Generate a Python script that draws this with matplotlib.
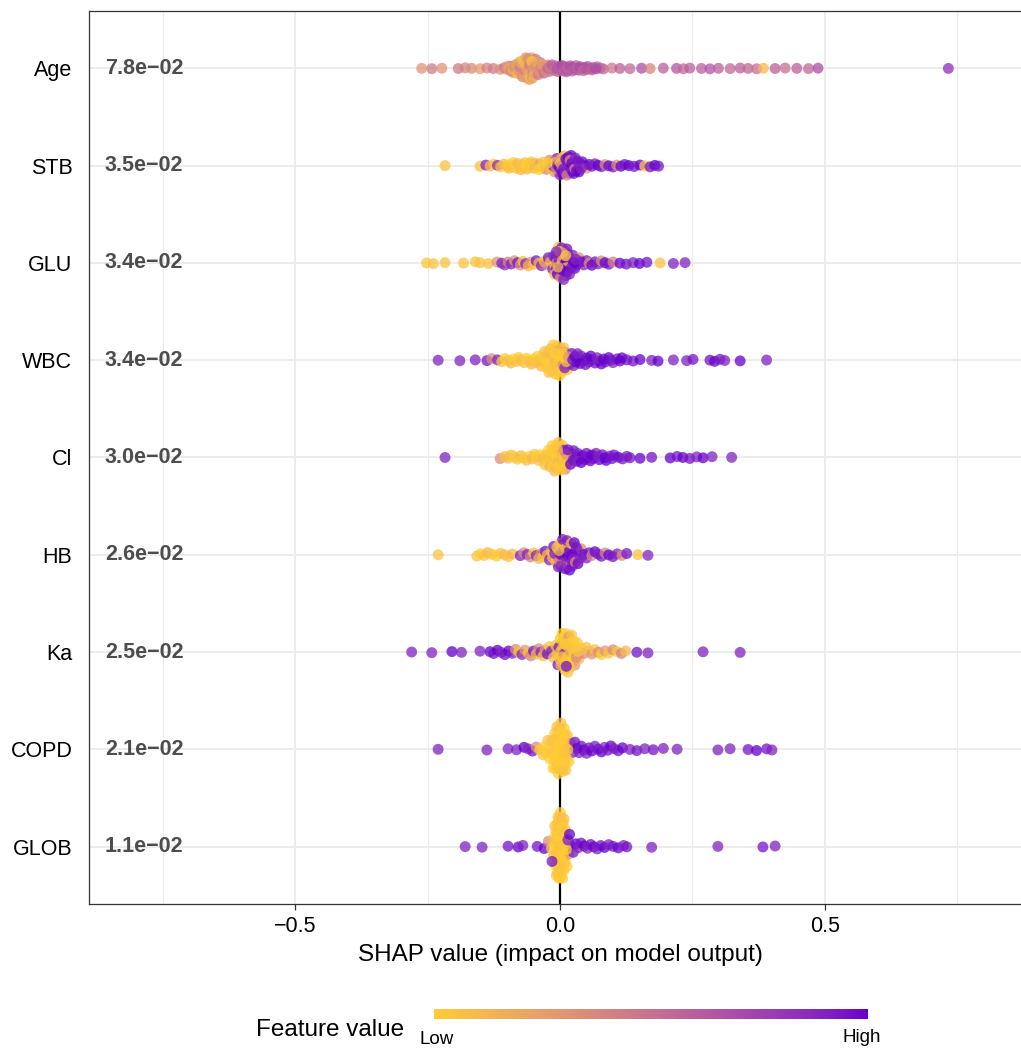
import numpy as np
import matplotlib
matplotlib.use("Agg")
import matplotlib.pyplot as plt
from matplotlib.colors import ListedColormap

plt.rcParams['font.family'] = ['Liberation Sans', 'DejaVu Sans']

# ---- data: (shap value, normalised feature value) per feature ----
features = ["Age", "STB", "GLU", "WBC", "Cl", "HB", "Ka", "COPD", "GLOB"]
mean_abs = ["7.8e\u221202", "3.5e\u221202", "3.4e\u221202", "3.4e\u221202", "3.0e\u221202",
            "2.6e\u221202", "2.5e\u221202", "2.1e\u221202", "1.1e\u221202"]

age_pts = [(-0.261, 0.3), (-0.242, 0.45), (-0.223, 0.3), (-0.192, 0.45), (-0.179, 0.4), (-0.167, 0.35),
           (-0.151, 0.25), (-0.138, 0.4), (-0.126, 0.45), (-0.113, 0.35), (-0.105, 0.5), (-0.098, 0.3),
           (-0.092, 0.45), (-0.088, 0.25), (-0.084, 0.3), (-0.081, 0.2), (-0.078, 0.4), (-0.076, 0.15),
           (-0.074, 0.35), (-0.072, 0.25), (-0.070, 0.1), (-0.069, 0.3), (-0.068, 0.45), (-0.066, 0.2),
           (-0.065, 0.3), (-0.064, 0.05), (-0.063, 0.35), (-0.062, 0.25), (-0.061, 0.15), (-0.060, 0.3),
           (-0.059, 0.4), (-0.058, 0.2), (-0.057, 0.1), (-0.056, 0.3), (-0.055, 0.35), (-0.054, 0.25),
           (-0.053, 0.15), (-0.052, 0.4), (-0.051, 0.3), (-0.050, 0.2), (-0.048, 0.35), (-0.046, 0.45),
           (-0.044, 0.25), (-0.042, 0.4), (-0.040, 0.3), (-0.037, 0.5), (-0.034, 0.35), (-0.031, 0.45),
           (-0.028, 0.55), (-0.024, 0.4), (-0.020, 0.55), (-0.016, 0.45), (-0.012, 0.6), (-0.008, 0.5),
           (-0.004, 0.55), (0.000, 0.6), (0.004, 0.65), (0.008, 0.55), (0.012, 0.6), (0.016, 0.7),
           (0.020, 0.6), (0.025, 0.65), (0.030, 0.55), (0.035, 0.7), (0.040, 0.6), (0.046, 0.65),
           (0.052, 0.7), (0.058, 0.6), (0.064, 0.65), (0.070, 0.55), (0.076, 0.6), (0.082, 0.55),
           (0.098, 0.45), (0.113, 0.6), (0.132, 0.55), (0.154, 0.7), (0.170, 0.4), (0.195, 0.6),
           (0.220, 0.65), (0.233, 0.55), (0.245, 0.6), (0.267, 0.6), (0.283, 0.65), (0.299, 0.6),
           (0.321, 0.55), (0.340, 0.6), (0.355, 0.55), (0.371, 0.5), (0.384, 0.1), (0.406, 0.6),
           (0.425, 0.5), (0.447, 0.6), (0.469, 0.55), (0.487, 0.7), (0.733, 0.85)]
age_core = [(-0.100, 0.3), (-0.096, 0.2), (-0.093, 0.4), (-0.089, 0.15), (-0.086, 0.35), (-0.083, 0.25),
            (-0.080, 0.1), (-0.077, 0.3), (-0.075, 0.45), (-0.073, 0.2), (-0.071, 0.35), (-0.069, 0.05),
            (-0.067, 0.25), (-0.066, 0.4), (-0.065, 0.15), (-0.063, 0.3), (-0.062, 0.1), (-0.061, 0.35),
            (-0.060, 0.2), (-0.059, 0.25), (-0.058, 0.45), (-0.057, 0.3), (-0.056, 0.1), (-0.055, 0.2),
            (-0.054, 0.35), (-0.053, 0.05), (-0.052, 0.25), (-0.051, 0.4), (-0.050, 0.3), (-0.049, 0.15),
            (-0.047, 0.25), (-0.045, 0.35), (-0.043, 0.2), (-0.041, 0.45), (-0.039, 0.3), (-0.036, 0.4),
            (-0.033, 0.25), (-0.030, 0.5), (-0.027, 0.35), (-0.023, 0.55), (-0.019, 0.45), (-0.015, 0.6),
            (-0.010, 0.5), (-0.006, 0.65), (-0.002, 0.6), (0.003, 0.7), (0.007, 0.6), (0.011, 0.65),
            (0.015, 0.55), (0.019, 0.7), (0.023, 0.6), (0.028, 0.65), (0.033, 0.6), (0.038, 0.7),
            (0.044, 0.55), (0.050, 0.65), (0.060, 0.6), (0.068, 0.7)]

stb_pts = [(-0.217, 0.05), (-0.151, 0.05), (-0.140, 0.9), (-0.132, 0.1), (-0.125, 0.05), (-0.118, 0.85),
           (-0.112, 0.05), (-0.106, 0.1), (-0.100, 0.05), (-0.095, 0.0), (-0.090, 0.1), (-0.086, 0.05),
           (-0.082, 0.0), (-0.078, 0.05), (-0.074, 0.1), (-0.070, 0.0), (-0.066, 0.05), (-0.062, 0.1),
           (-0.058, 0.0), (-0.054, 0.05), (-0.050, 0.0), (-0.046, 0.1), (-0.042, 0.05), (-0.038, 0.3),
           (-0.034, 0.0), (-0.030, 0.05), (-0.026, 0.4), (-0.022, 0.1), (-0.018, 0.9), (-0.014, 0.05),
           (-0.010, 0.3), (-0.006, 0.95), (-0.003, 0.1), (0.000, 0.9), (0.003, 0.05), (0.006, 0.95),
           (0.009, 0.4), (0.012, 1.0), (0.015, 0.9), (0.018, 0.95), (0.021, 1.0), (0.024, 0.85),
           (0.027, 0.95), (0.030, 1.0), (0.034, 0.9), (0.038, 0.95), (0.042, 1.0), (0.046, 0.95),
           (0.050, 0.3), (0.055, 1.0), (0.060, 0.95), (0.066, 0.9), (0.072, 1.0), (0.078, 0.95),
           (0.085, 0.35), (0.092, 1.0), (0.100, 0.95), (0.107, 0.35), (0.115, 1.0), (0.122, 0.95),
           (0.130, 1.0), (0.140, 0.95), (0.151, 1.0), (0.160, 0.05), (0.170, 0.95), (0.179, 1.0),
           (0.186, 0.95)]
stb_core = [(-0.020, 0.35), (-0.016, 0.1), (-0.012, 0.9), (-0.009, 0.05), (-0.007, 0.4), (-0.005, 0.95),
            (-0.003, 0.3), (-0.001, 1.0), (0.001, 0.05), (0.002, 0.9), (0.004, 0.35), (0.005, 1.0),
            (0.007, 0.95), (0.008, 0.1), (0.010, 0.9), (0.011, 1.0), (0.013, 0.4), (0.014, 0.95),
            (0.016, 1.0), (0.017, 0.9), (0.019, 0.3), (0.020, 0.95), (0.022, 1.0), (0.023, 0.9),
            (0.025, 0.95), (0.026, 1.0), (0.028, 0.35), (0.029, 0.9), (0.031, 1.0), (0.033, 0.95),
            (0.036, 1.0), (0.040, 0.9), (-0.097, 0.05), (-0.088, 0.0), (-0.080, 0.1), (-0.072, 0.05),
            (-0.064, 0.0), (-0.056, 0.05), (-0.048, 0.1), (-0.040, 0.0), (-0.032, 0.05), (-0.024, 0.0)]

glu_pts = [(-0.252, 0.05), (-0.239, 0.05), (-0.217, 0.05), (-0.182, 0.05), (-0.160, 0.05), (-0.151, 0.05),
           (-0.135, 0.05), (-0.119, 0.3), (-0.110, 0.9), (-0.104, 0.85), (-0.098, 0.4), (-0.092, 0.9),
           (-0.086, 0.3), (-0.080, 0.95), (-0.075, 0.35), (-0.070, 0.05), (-0.065, 0.9), (-0.060, 0.1),
           (-0.055, 0.3), (-0.050, 0.05), (-0.045, 0.95), (-0.040, 0.1), (-0.035, 0.9), (-0.030, 0.05),
           (-0.026, 0.35), (-0.022, 0.95), (-0.018, 0.1), (-0.014, 0.9), (-0.010, 0.05), (-0.007, 1.0),
           (-0.004, 0.3), (-0.001, 0.95), (0.002, 0.05), (0.005, 1.0), (0.008, 0.1), (0.011, 0.95),
           (0.014, 0.3), (0.017, 1.0), (0.020, 0.05), (0.024, 0.9), (0.028, 1.0), (0.032, 0.95),
           (0.036, 0.35), (0.040, 1.0), (0.045, 0.9), (0.050, 0.95), (0.055, 0.3), (0.060, 1.0),
           (0.066, 0.95), (0.072, 0.9), (0.078, 0.35), (0.085, 1.0), (0.092, 0.95), (0.100, 0.4),
           (0.113, 1.0), (0.125, 0.95), (0.138, 0.9), (0.150, 1.0), (0.164, 0.95), (0.189, 0.05),
           (0.214, 0.9), (0.236, 0.9)]
glu_core = [(-0.012, 0.9), (-0.010, 0.1), (-0.008, 0.95), (-0.006, 0.35), (-0.005, 1.0), (-0.003, 0.05),
            (-0.002, 0.9), (0.000, 1.0), (0.001, 0.3), (0.003, 0.95), (0.004, 0.05), (0.006, 1.0),
            (0.007, 0.9), (0.009, 0.35), (0.010, 1.0), (0.012, 0.05), (0.013, 0.95), (0.015, 0.9),
            (-0.001, 0.05), (0.002, 1.0), (0.005, 0.3), (0.008, 0.95), (-0.004, 0.1), (-0.007, 0.9),
            (0.011, 0.05), (0.014, 1.0), (0.018, 0.9), (0.022, 0.95), (0.026, 1.0), (0.030, 0.9)]

wbc_pts = [(-0.230, 0.9), (-0.189, 0.9), (-0.160, 0.9), (-0.138, 0.95), (-0.129, 0.35), (-0.118, 0.9),
           (-0.110, 0.05), (-0.104, 0.0), (-0.098, 0.05), (-0.093, 0.1), (-0.088, 0.0), (-0.083, 0.05),
           (-0.078, 0.0), (-0.073, 0.1), (-0.068, 0.05), (-0.063, 0.0), (-0.058, 0.05), (-0.054, 0.1),
           (-0.050, 0.0), (-0.046, 0.05), (-0.042, 0.0), (-0.038, 0.05), (-0.035, 0.1), (-0.032, 0.0),
           (-0.029, 0.05), (-0.026, 0.0), (-0.023, 0.05), (-0.020, 0.1), (-0.017, 0.0), (-0.014, 0.05),
           (-0.011, 0.0), (-0.008, 0.05), (-0.005, 0.1), (-0.002, 0.0), (0.001, 0.05), (0.004, 0.0),
           (0.007, 0.05), (0.010, 0.3), (0.014, 0.05), (0.018, 0.9), (0.022, 0.95), (0.026, 0.9),
           (0.030, 1.0), (0.035, 0.95), (0.040, 0.9), (0.045, 1.0), (0.050, 0.95), (0.055, 0.9),
           (0.060, 1.0), (0.066, 0.95), (0.072, 0.9), (0.078, 1.0), (0.085, 0.95), (0.092, 1.0),
           (0.100, 0.9), (0.108, 0.95), (0.117, 1.0), (0.126, 0.95), (0.138, 0.95), (0.151, 1.0),
           (0.173, 0.9), (0.185, 1.0), (0.214, 0.9), (0.239, 0.9), (0.251, 0.95), (0.283, 0.95),
           (0.292, 1.0), (0.302, 0.95), (0.311, 0.9), (0.340, 1.0), (0.390, 0.9)]
wbc_core = [(-0.030, 0.05), (-0.027, 0.0), (-0.024, 0.1), (-0.021, 0.05), (-0.019, 0.0), (-0.016, 0.05),
            (-0.015, 0.1), (-0.013, 0.0), (-0.012, 0.05), (-0.010, 0.0), (-0.009, 0.1), (-0.007, 0.05),
            (-0.006, 0.0), (-0.004, 0.05), (-0.003, 0.3), (-0.001, 0.0), (0.000, 0.05), (0.002, 0.1),
            (0.003, 0.0), (0.005, 0.05), (0.006, 0.35), (0.008, 0.0), (0.009, 0.9), (0.012, 0.05),
            (0.016, 0.3), (-0.018, 0.05), (-0.008, 0.0), (0.024, 0.95), (0.028, 1.0), (0.033, 0.9),
            (0.038, 1.0), (0.048, 0.95), (0.058, 1.0), (0.070, 0.9), (0.082, 1.0), (0.096, 0.95),
            (0.113, 1.0)]

cl_pts = [(-0.217, 0.9), (-0.113, 0.35), (-0.104, 0.05), (-0.098, 0.1), (-0.092, 0.05), (-0.086, 0.0),
          (-0.080, 0.05), (-0.074, 0.1), (-0.068, 0.0), (-0.063, 0.05), (-0.058, 0.0), (-0.053, 0.1),
          (-0.048, 0.05), (-0.044, 0.0), (-0.040, 0.05), (-0.036, 0.0), (-0.032, 0.1), (-0.028, 0.05),
          (-0.024, 0.0), (-0.020, 0.05), (-0.017, 0.0), (-0.014, 0.1), (-0.011, 0.05), (-0.008, 0.0),
          (-0.005, 0.05), (-0.002, 0.0), (0.001, 0.05), (0.004, 0.9), (0.007, 0.05), (0.010, 0.35),
          (0.014, 0.0), (0.018, 0.3), (0.022, 0.9), (0.026, 0.95), (0.030, 1.0), (0.034, 0.9),
          (0.038, 0.95), (0.042, 1.0), (0.047, 0.9), (0.052, 0.95), (0.057, 1.0), (0.062, 0.95),
          (0.068, 0.9), (0.074, 1.0), (0.080, 0.95), (0.087, 1.0), (0.094, 0.9), (0.102, 0.95),
          (0.110, 1.0), (0.118, 0.95), (0.126, 0.9), (0.132, 0.95), (0.151, 1.0), (0.173, 0.95),
          (0.208, 1.0), (0.221, 0.95), (0.232, 1.0), (0.245, 0.95), (0.258, 0.9), (0.270, 1.0),
          (0.287, 0.9), (0.324, 0.9)]
cl_core = [(-0.026, 0.05), (-0.022, 0.0), (-0.019, 0.1), (-0.016, 0.05), (-0.013, 0.0), (-0.012, 0.05),
           (-0.010, 0.1), (-0.009, 0.0), (-0.007, 0.05), (-0.006, 0.0), (-0.004, 0.1), (-0.003, 0.05),
           (-0.001, 0.0), (0.000, 0.05), (0.002, 0.0), (0.003, 0.35), (0.005, 0.05), (0.006, 0.0),
           (0.008, 0.9), (0.009, 0.05), (0.012, 0.3), (0.015, 0.95), (-0.015, 0.0), (-0.005, 0.05),
           (0.020, 1.0), (0.025, 0.95), (0.032, 0.9), (0.040, 1.0), (0.050, 0.95), (0.060, 1.0),
           (0.072, 0.9), (0.085, 1.0), (0.098, 0.95)]

hb_pts = [(-0.230, 0.05), (-0.157, 0.05), (-0.150, 0.0), (-0.143, 0.05), (-0.136, 0.1), (-0.128, 0.05),
          (-0.120, 0.0), (-0.112, 0.05), (-0.104, 0.1), (-0.097, 0.05), (-0.090, 0.1), (-0.075, 0.9),
          (-0.068, 0.35), (-0.062, 0.9), (-0.056, 0.4), (-0.050, 0.05), (-0.045, 0.9), (-0.040, 0.1),
          (-0.036, 0.35), (-0.032, 0.05), (-0.028, 0.95), (-0.024, 0.1), (-0.020, 0.9), (-0.016, 0.05),
          (-0.012, 0.95), (-0.008, 0.1), (-0.004, 1.0), (0.000, 0.05), (0.004, 0.95), (0.008, 1.0),
          (0.012, 0.3), (0.016, 0.95), (0.020, 1.0), (0.024, 0.9), (0.028, 0.05), (0.032, 1.0),
          (0.036, 0.95), (0.040, 0.35), (0.045, 1.0), (0.050, 0.9), (0.055, 0.95), (0.060, 0.35),
          (0.066, 1.0), (0.072, 0.9), (0.078, 0.95), (0.085, 0.4), (0.092, 1.0), (0.100, 0.95),
          (0.108, 0.9), (0.117, 0.35), (0.126, 0.95), (0.147, 0.05), (0.166, 0.9)]
hb_core = [(-0.014, 0.1), (-0.010, 0.9), (-0.006, 0.05), (-0.003, 0.95), (-0.001, 0.35), (0.001, 1.0),
           (0.003, 0.05), (0.005, 0.9), (0.006, 1.0), (0.007, 0.3), (0.009, 0.95), (0.010, 1.0),
           (0.011, 0.05), (0.013, 0.9), (0.014, 1.0), (0.015, 0.35), (0.017, 0.95), (0.018, 1.0),
           (0.019, 0.9), (0.021, 0.05), (0.022, 1.0), (0.023, 0.95), (0.025, 0.9), (0.027, 1.0),
           (0.029, 0.35), (0.031, 0.95), (0.034, 1.0), (0.038, 0.9), (-0.002, 0.1), (0.002, 0.9)]

ka_pts = [(-0.280, 0.9), (-0.242, 0.9), (-0.204, 1.0), (-0.186, 0.9), (-0.151, 0.9), (-0.132, 1.0),
          (-0.125, 0.95), (-0.118, 1.0), (-0.111, 0.9), (-0.104, 0.95), (-0.097, 1.0), (-0.090, 0.9),
          (-0.084, 0.35), (-0.078, 0.05), (-0.072, 0.9), (-0.066, 0.3), (-0.060, 0.05), (-0.055, 0.4),
          (-0.050, 0.95), (-0.045, 0.1), (-0.040, 0.35), (-0.036, 0.9), (-0.032, 0.05), (-0.028, 0.3),
          (-0.024, 0.95), (-0.020, 0.05), (-0.016, 0.9), (-0.012, 0.1), (-0.008, 0.05), (-0.004, 0.95),
          (0.000, 0.05), (0.003, 0.0), (0.006, 0.1), (0.009, 0.05), (0.012, 0.0), (0.015, 0.05),
          (0.018, 0.1), (0.021, 0.0), (0.024, 0.05), (0.028, 0.3), (0.032, 0.05), (0.036, 0.1),
          (0.040, 0.0), (0.045, 0.35), (0.050, 0.05), (0.055, 0.1), (0.060, 0.3), (0.066, 0.05),
          (0.072, 0.35), (0.078, 0.0), (0.085, 0.3), (0.092, 0.05), (0.100, 0.35), (0.108, 0.05),
          (0.116, 0.4), (0.124, 0.1), (0.145, 0.95), (0.166, 0.9), (0.270, 0.9), (0.340, 0.9)]
ka_core = [(-0.006, 0.05), (-0.002, 0.95), (0.000, 0.0), (0.001, 0.05), (0.002, 0.1), (0.004, 0.0),
           (0.005, 0.05), (0.007, 0.0), (0.008, 0.9), (0.010, 0.05), (0.011, 0.0), (0.013, 0.1),
           (0.014, 0.05), (0.016, 0.0), (0.017, 0.3), (0.019, 0.05), (0.020, 0.0), (0.022, 0.05),
           (0.023, 0.1), (0.025, 0.0), (0.026, 0.05), (0.029, 0.0), (0.031, 0.35), (0.034, 0.05),
           (0.003, 0.05), (0.009, 0.0), (0.015, 0.05), (0.012, 0.95)]

copd_pts = [(-0.230, 0.9), (-0.138, 0.9), (-0.098, 0.9), (-0.082, 0.9), (-0.068, 1.0), (-0.060, 0.9),
            (-0.052, 0.95), (-0.045, 0.35), (-0.038, 0.0), (-0.032, 0.05), (-0.027, 0.0), (-0.023, 0.05),
            (-0.019, 0.0), (-0.016, 0.05), (-0.013, 0.0), (-0.010, 0.05), (-0.008, 0.0), (-0.006, 0.05),
            (-0.004, 0.0), (-0.002, 0.05), (0.000, 0.0), (0.002, 0.05), (0.004, 0.0), (0.006, 0.05),
            (0.008, 0.0), (0.010, 0.05), (0.012, 0.0), (0.014, 0.05), (0.017, 0.0), (0.020, 0.35),
            (0.024, 0.9), (0.028, 0.95), (0.032, 1.0), (0.036, 0.9), (0.040, 0.95), (0.045, 1.0),
            (0.050, 0.9), (0.055, 0.95), (0.060, 1.0), (0.066, 0.9), (0.072, 0.95), (0.078, 1.0),
            (0.084, 0.9), (0.090, 0.95), (0.096, 1.0), (0.102, 0.9), (0.110, 0.95), (0.118, 1.0),
            (0.132, 0.9), (0.145, 0.95), (0.160, 0.9), (0.176, 0.95), (0.195, 0.9), (0.221, 0.9),
            (0.298, 0.9), (0.321, 0.9), (0.355, 0.95), (0.371, 1.0), (0.390, 0.95), (0.400, 0.9)]
copd_core = [(-0.012, 0.05), (-0.011, 0.0), (-0.009, 0.05), (-0.007, 0.0), (-0.005, 0.05), (-0.003, 0.0),
             (-0.001, 0.05), (0.001, 0.0), (0.003, 0.05), (0.005, 0.0), (0.007, 0.05), (0.009, 0.0),
             (0.011, 0.05), (0.013, 0.0), (-0.008, 0.05), (-0.004, 0.0), (0.000, 0.05), (0.004, 0.0),
             (0.008, 0.05), (-0.006, 0.0), (0.002, 0.05), (0.006, 0.0), (0.010, 0.05), (-0.002, 0.0),
             (0.015, 0.05), (-0.014, 0.0), (-0.020, 0.05), (-0.030, 0.0)]

glob_pts = [(-0.179, 0.9), (-0.147, 0.9), (-0.098, 0.95), (-0.079, 1.0), (-0.070, 0.9), (-0.043, 0.95),
            (-0.030, 1.0), (-0.022, 0.35), (-0.016, 0.0), (-0.012, 0.05), (-0.009, 0.0), (-0.007, 0.05),
            (-0.005, 0.0), (-0.004, 0.05), (-0.003, 0.0), (-0.002, 0.05), (-0.001, 0.0), (0.000, 0.05),
            (0.001, 0.0), (0.002, 0.05), (0.003, 0.0), (0.004, 0.05), (0.005, 0.0), (0.006, 0.05),
            (0.008, 0.0), (0.010, 0.05), (0.013, 0.0), (0.016, 0.3), (0.020, 0.9), (0.025, 0.95),
            (0.030, 1.0), (0.035, 0.9), (0.040, 0.95), (0.046, 1.0), (0.052, 0.9), (0.058, 0.95),
            (0.064, 1.0), (0.070, 0.9), (0.077, 0.95), (0.084, 1.0), (0.092, 0.9), (0.100, 0.95),
            (0.110, 1.0), (0.120, 0.9), (0.126, 0.95), (0.173, 0.9), (0.298, 0.9), (0.383, 0.95),
            (0.406, 0.9)]
glob_core = [(-0.010, 0.05), (-0.009, 0.0), (-0.008, 0.05), (-0.007, 0.0), (-0.006, 0.05), (-0.005, 0.0),
             (-0.004, 0.05), (-0.003, 0.0), (-0.002, 0.05), (-0.001, 0.0), (0.000, 0.05), (0.001, 0.0),
             (0.002, 0.05), (0.003, 0.0), (0.004, 0.05), (0.005, 0.0), (0.006, 0.05), (0.007, 0.0),
             (0.008, 0.05), (0.009, 0.0), (0.010, 0.05), (-0.006, 0.0), (-0.003, 0.05), (0.000, 0.0),
             (0.003, 0.05), (0.006, 0.0), (-0.004, 0.05), (0.002, 0.0), (0.005, 0.05), (-0.001, 0.05),
             (0.001, 0.05), (-0.002, 0.0), (0.004, 0.0), (-0.005, 0.05), (0.007, 0.05), (0.012, 0.0),
             (-0.012, 0.05), (0.015, 0.9), (-0.015, 0.95), (0.018, 1.0)]

all_pts = [age_pts + age_core, stb_pts + stb_core, glu_pts + glu_core, wbc_pts + wbc_core,
           cl_pts + cl_core, hb_pts + hb_core, ka_pts + ka_core, copd_pts + copd_core,
           glob_pts + glob_core]

# half-height of each violin-like swarm, in row units (layout only)
spread = [0.12, 0.11, 0.18, 0.17, 0.16, 0.17, 0.22, 0.28, 0.36]


# ---- ggplot-like gradient (interpolated in CIELAB) ----
def hex_rgb(h):
    return np.array([int(h[i:i + 2], 16) / 255 for i in (1, 3, 5)])

M = np.array([[0.4124, 0.3576, 0.1805], [0.2126, 0.7152, 0.0722], [0.0193, 0.1192, 0.9505]])
WHITE = np.array([0.95047, 1.0, 1.08883])

def rgb2lab(c):
    lin = np.where(c <= 0.04045, c / 12.92, ((c + 0.055) / 1.055) ** 2.4)
    xyz = M @ lin / WHITE
    f = np.where(xyz > 0.008856, np.cbrt(xyz), 7.787 * xyz + 16 / 116)
    return np.array([116 * f[1] - 16, 500 * (f[0] - f[1]), 200 * (f[1] - f[2])])

def lab2rgb(lab):
    fy = (lab[0] + 16) / 116
    f = np.array([fy + lab[1] / 500, fy, fy - lab[2] / 200])
    xyz = np.where(f ** 3 > 0.008856, f ** 3, (f - 16 / 116) / 7.787) * WHITE
    lin = np.clip(np.linalg.solve(M, xyz), 0, 1)
    c = np.where(lin <= 0.0031308, 12.92 * lin, 1.055 * lin ** (1 / 2.4) - 0.055)
    return np.clip(c, 0, 1)

lo, hi = rgb2lab(hex_rgb("#FFCC33")), rgb2lab(hex_rgb("#6600CC"))
cmap = ListedColormap([lab2rgb(lo + t * (hi - lo)) for t in np.linspace(0, 1, 256)])

fig = plt.figure(figsize=(10.21, 10.48), dpi=100)
ax = fig.add_axes([89 / 1021, 1 - 904 / 1048, 942 / 1021, 893 / 1048])

# sina-style layout: vertical spread follows local density of the shap values
bw = 0.010
n_feat = len(features)
for k, pts in enumerate(all_pts):
    row = n_feat - k
    xs = np.array([p[0] for p in pts])
    fv = np.array([p[1] for p in pts])
    d = np.exp(-0.5 * ((xs[:, None] - xs[None, :]) / bw) ** 2).sum(axis=1)
    order = np.argsort(xs, kind="stable")
    u = np.empty(len(xs))
    u[order] = ((np.arange(len(xs)) * 0.618034 + 0.5) % 1.0) * 2 - 1
    ys = row + u * spread[k] * d / d.max()
    ax.scatter(xs, ys, c=fv, cmap=cmap, vmin=0, vmax=1, s=62, alpha=0.75,
               linewidths=0, zorder=3)
    ax.text(0.017, row, mean_abs[k], transform=ax.get_yaxis_transform(),
            ha="left", va="center", fontsize=15.5, fontweight="bold", color="#4D4D4D", zorder=4)

ax.axvline(0, color="black", lw=1.6, zorder=2)

ax.set_xlim(-0.889, 0.889)
ax.set_ylim(0.41, n_feat + 0.59)
ax.set_xticks([-0.5, 0.0, 0.5])
ax.set_xticklabels(["\u22120.5", "0.0", "0.5"])
ax.set_xticks([-0.75, -0.25, 0.25, 0.75], minor=True)
ax.set_yticks(range(1, n_feat + 1))
ax.set_yticklabels(features[::-1])
ax.tick_params(axis="x", which="major", length=4.5, width=0.9, color="#333333",
               labelsize=15.5, pad=4, labelcolor="black")
ax.tick_params(axis="x", which="minor", length=0)
ax.tick_params(axis="y", length=0, labelsize=15.5, pad=12, labelcolor="black")
ax.grid(True, which="major", color="#EBEBEB", lw=1.3, zorder=0)
ax.grid(True, which="minor", axis="x", color="#EBEBEB", lw=0.8, zorder=0)
ax.set_axisbelow(True)
for sp in ax.spines.values():
    sp.set_color("#333333")
    sp.set_linewidth(0.9)

fig.text(560 / 1021, 1 - 955 / 1048, "SHAP value (impact on model output)",
         ha="center", va="center", fontsize=17.5)

# ---- colour legend ----
cax = fig.add_axes([434 / 1021, 1 - 1019 / 1048, 433 / 1021, 10 / 1048])
cax.imshow(np.linspace(0, 1, 256)[None, :], cmap=cmap, aspect="auto")
cax.axis("off")
fig.text(256 / 1021, 1 - 1030 / 1048, "Feature value", ha="left", va="center", fontsize=17.5)
fig.text(437 / 1021, 1 - 1039 / 1048, "Low", ha="center", va="center", fontsize=13.5)
fig.text(862 / 1021, 1 - 1038 / 1048, "High", ha="center", va="center", fontsize=13.5)

fig.savefig("out.png", dpi=100)
